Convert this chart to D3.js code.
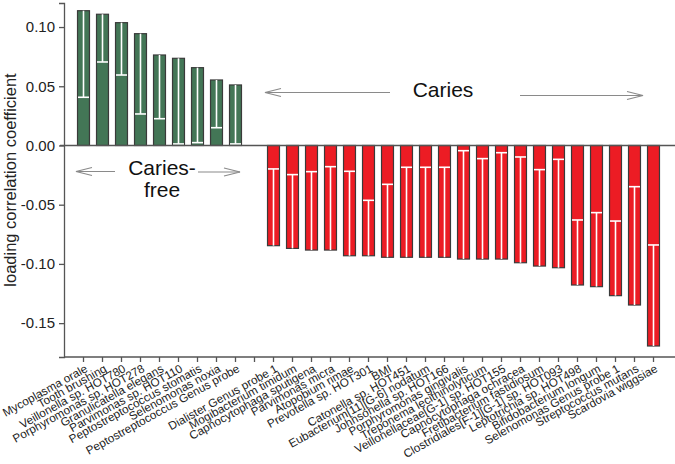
<!DOCTYPE html>
<html>
<head>
<meta charset="utf-8">
<style>
body { margin: 0; background: #fff; }
text { font-family: "Liberation Sans", Arial, sans-serif; }
</style>
</head>
<body>
<svg width="675" height="464"></svg>
<script src="https://cdn.jsdelivr.net/npm/d3@7"></script>
<script>

// taxa / variables, in plotting order ("" = empty gap slot)
var cariesFree = ["Mycoplasma orale", "Tooth brushing", "Veillonella sp. HOT780",
  "Porphyromonas sp. HOT278", "Granulicatella elegans", "Parvimonas sp. HOT110",
  "Peptostreptococcus stomatis", "Selenomonas noxia", "Peptostreptococcus Genus probe"];
var cariesFreeVal = [0.1138, 0.1108, 0.1037, 0.0944, 0.0764, 0.0736, 0.0657, 0.0553, 0.0511];
var cariesFreeLow = [0.0407, 0.0705, 0.0595, 0.0266, 0.0226, 0.0013, 0.0024, 0.0150, 0.0013];

var caries = ["Dialister Genus probe 1", "Mogibacterium timidum", "Capnocytophaga sputigena",
  "Parvimonas micra", "Atopobium rimae", "Prevotella sp. HOT301", "BMI",
  "Catonella sp. HOT451", "Eubacterium[11][G-6] nodatum", "Johnsonella sp. HOT166",
  "Porphyromonas gingivalis", "Treponema lecithinolyticum", "Veillonellaceae[G-1] sp. HOT155",
  "Capnocytophaga ochracea", "Fretibacterium fastidiosum", "Clostridiales[F-1][G-1] sp. HOT093",
  "Leptotrichia sp. HOT498", "Bifidobacterium longum", "Selenomonas Genus probe 1",
  "Streptococcus mutans", "Scardovia wiggsiae"];
var cariesVal = [-0.0846, -0.0869, -0.0883, -0.0883, -0.0931, -0.0931, -0.0944, -0.0944, -0.0944,
  -0.0944, -0.0959, -0.0959, -0.0959, -0.0990, -0.1018, -0.1032, -0.1178, -0.1192, -0.1268,
  -0.1347, -0.1693];
var cariesLow = [-0.0198, -0.0246, -0.0221, -0.0179, -0.0218, -0.0463, -0.0328, -0.0184, -0.0184,
  -0.0184, -0.0044, -0.0111, -0.0061, -0.0097, -0.0204, -0.0117, -0.0629, -0.0567, -0.0638,
  -0.0348, -0.0840];

var yTicks = [0.10, 0.05, 0.00, -0.05, -0.10, -0.15];

var slots = cariesFree.concat([""], caries);
var rows = [];
cariesFree.forEach(function(n, i) { rows.push({name: n, v: cariesFreeVal[i], lo: cariesFreeLow[i], c: "#437656"}); });
caries.forEach(function(n, i) { rows.push({name: n, v: cariesVal[i], lo: cariesLow[i], c: "#ec1c24"}); });

var svg = d3.select("svg");

var x = d3.scaleBand()
    .domain(slots)
    .range([74, 663])
    .paddingInner(0.37)
    .paddingOuter(0.185);

var y = d3.scaleLinear()
    .domain([-0.1786, 0.1203])
    .range([357, 3]);

var axisCol = "#555";

// y axis
var yAxis = svg.append("g")
    .attr("transform", "translate(64,0)")
    .call(d3.axisLeft(y).tickValues(yTicks).tickFormat(d3.format(".2f")).tickSize(5).tickPadding(4));
yAxis.select(".domain").attr("stroke", axisCol).attr("stroke-width", 1.3);
yAxis.selectAll(".tick line").attr("stroke", axisCol).attr("stroke-width", 1.3);
yAxis.selectAll(".tick text").attr("font-size", 15).attr("fill", "#222")
    .attr("font-family", "Liberation Sans, Arial, sans-serif")
    .text(function(d) { return d < 0 ? "-" + d3.format(".2f")(-d) : d3.format(".2f")(d); });

// bottom axis
var xAxis = svg.append("g")
    .attr("transform", "translate(0,357)")
    .call(d3.axisBottom(x).tickSize(5).tickFormat(""));
xAxis.select(".domain").remove();
xAxis.selectAll(".tick line").attr("stroke", axisCol).attr("stroke-width", 1.3);
svg.append("line")
    .attr("x1", 64).attr("x2", 675).attr("y1", 357).attr("y2", 357)
    .attr("stroke", axisCol).attr("stroke-width", 1.3);

xAxis.selectAll(".tick").filter(function(d) { return d !== ""; })
  .append("text")
    .attr("fill", "#222")
    .attr("font-size", 11.7)
    .attr("text-anchor", "end")
    .attr("transform", "translate(5,14) rotate(-29)")
    .text(function(d) { return d; });

// bars
var g = svg.append("g");
g.selectAll("rect")
  .data(rows)
  .enter().append("rect")
    .attr("x", function(d) { return x(d.name); })
    .attr("width", x.bandwidth())
    .attr("y", function(d) { return Math.min(y(d.v), y(0)); })
    .attr("height", function(d) { return Math.abs(y(d.v) - y(0)); })
    .attr("fill", function(d) { return d.c; })
    .attr("stroke", "#3a3a3a")
    .attr("stroke-width", 1.2);

// white interval lines inside bars
g.selectAll(".ci")
  .data(rows)
  .enter().append("line")
    .attr("class", "ci")
    .attr("x1", function(d) { return x(d.name) + x.bandwidth() / 2; })
    .attr("x2", function(d) { return x(d.name) + x.bandwidth() / 2; })
    .attr("y1", function(d) { return y(d.lo); })
    .attr("y2", function(d) { return y(d.v); })
    .attr("stroke", "#fff").attr("stroke-width", 1.6);
g.selectAll(".cap")
  .data(rows)
  .enter().append("line")
    .attr("class", "cap")
    .attr("x1", function(d) { return x(d.name) + 0.5; })
    .attr("x2", function(d) { return x(d.name) + x.bandwidth() - 0.5; })
    .attr("y1", function(d) { return y(d.lo); })
    .attr("y2", function(d) { return y(d.lo); })
    .attr("stroke", "#fff").attr("stroke-width", 1.6);

// zero line
svg.append("line")
    .attr("x1", 60).attr("x2", 675).attr("y1", y(0)).attr("y2", y(0))
    .attr("stroke", axisCol).attr("stroke-width", 1.3);

// y label
svg.append("text")
    .attr("transform", "translate(16,180) rotate(-90)")
    .attr("text-anchor", "middle")
    .attr("font-size", 16.5)
    .attr("fill", "#222")
    .text("loading correlation coefficient");

// annotations with arrows
function arrow(x1, x2, yy) {
  var dir = x2 > x1 ? 1 : -1;
  var a = svg.append("g").attr("stroke", "#8a8a8a").attr("stroke-width", 1.2).attr("fill", "none");
  a.append("line").attr("x1", x1).attr("x2", x2).attr("y1", yy).attr("y2", yy);
  a.append("path").attr("d", "M" + (x2 - dir * 16) + "," + (yy - 4) + "L" + x2 + "," + yy + "L" + (x2 - dir * 16) + "," + (yy + 4));
}
arrow(390, 265, 92.5);
arrow(520, 643, 95.5);
svg.append("text").attr("x", 443).attr("y", 97).attr("text-anchor", "middle")
    .attr("font-size", 21).attr("fill", "#111").text("Caries");

arrow(115, 76, 171.5);
arrow(198, 240, 172);
svg.append("text").attr("x", 162).attr("y", 175).attr("text-anchor", "middle")
    .attr("font-size", 21).attr("fill", "#111").text("Caries-");
svg.append("text").attr("x", 162).attr("y", 197).attr("text-anchor", "middle")
    .attr("font-size", 21).attr("fill", "#111").text("free");

</script>
</body>
</html>
